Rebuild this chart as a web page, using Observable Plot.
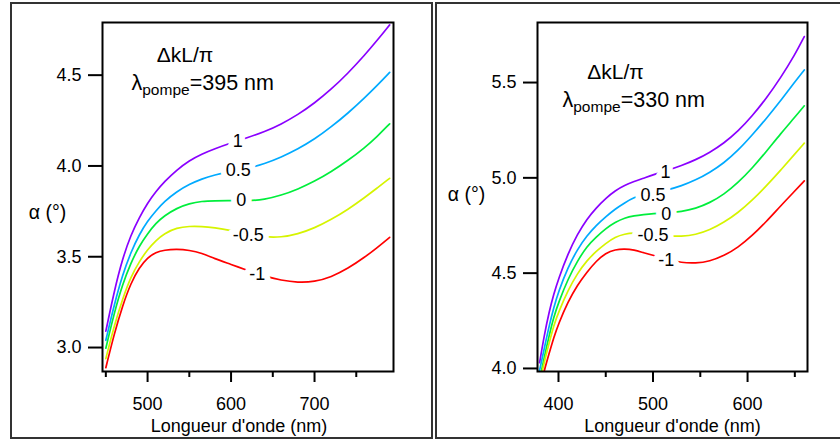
<!DOCTYPE html>
<html>
<head>
<meta charset="utf-8">
<script src="https://cdn.jsdelivr.net/npm/d3@7"></script>
<script src="https://cdn.jsdelivr.net/npm/@observablehq/plot@0.6"></script>
<style>
  html, body { margin: 0; padding: 0; background: #fff; }
  body { position: relative; width: 840px; height: 441px; overflow: hidden; font-family: "Liberation Sans", Arial, Helvetica, sans-serif; }
  .box { position: absolute; border: 2px solid #333; box-sizing: border-box; }
  #boxL { left: 10px; top: 2px; width: 423px; height: 437px; }
  #boxR { left: 435px; top: 2px; width: 420px; height: 437px; }
  .chart { position: absolute; top: 0; }
  #chartL { left: 0; }
  #chartR { left: 434px; }
</style>
</head>
<body>
<div class="box" id="boxL"></div>
<div class="box" id="boxR"></div>
<div class="chart" id="chartL"></div>
<div class="chart" id="chartR"></div>
<script>
// ---------- data ----------
const seriesNames = ["1", "0.5", "0", "-0.5", "-1"];
const seriesColors = ["#8a00ff", "#00aaff", "#00ee3c", "#d6f400", "#ff0000"];

// Left panel: λpompe = 395 nm
const wlL = [450, 460, 470, 480, 490, 500, 510, 520, 535, 550, 565, 580, 600, 620, 640, 660, 680, 700, 720, 740, 760, 775, 790];
const aL_p1  = [3.09, 3.31, 3.49, 3.62, 3.715, 3.796, 3.859, 3.913, 3.978, 4.030, 4.066, 4.094, 4.127, 4.156, 4.188, 4.23, 4.282, 4.346, 4.422, 4.51, 4.61, 4.691, 4.777];
const aL_p05 = [3.04, 3.235, 3.40, 3.525, 3.622, 3.697, 3.753, 3.804, 3.859, 3.899, 3.929, 3.95, 3.971, 3.987, 4.012, 4.048, 4.093, 4.147, 4.215, 4.29, 4.375, 4.443, 4.515];
const aL_0   = [2.996, 3.19, 3.348, 3.466, 3.559, 3.627, 3.685, 3.725, 3.768, 3.793, 3.806, 3.808, 3.809, 3.807, 3.815, 3.838, 3.872, 3.915, 3.968, 4.03, 4.10, 4.162, 4.232];
const aL_m05 = [2.939, 3.12, 3.268, 3.39, 3.473, 3.54, 3.59, 3.628, 3.66, 3.668, 3.667, 3.66, 3.645, 3.625, 3.608, 3.607, 3.625, 3.658, 3.705, 3.76, 3.826, 3.878, 3.932];
const aL_m1  = [2.889, 3.075, 3.23, 3.355, 3.44, 3.495, 3.525, 3.537, 3.542, 3.536, 3.52, 3.49, 3.458, 3.424, 3.393, 3.37, 3.358, 3.362, 3.388, 3.435, 3.497, 3.55, 3.607];
const labelL_x = [608, 608.6, 612.2, 620.6, 631.4];
const labelL_y = [4.134, 3.974, 3.809, 3.619, 3.404];

// Right panel: λpompe = 330 nm
const wlR = [380, 385, 390, 395, 400, 410, 420, 430, 440, 450, 460, 470, 480, 490, 500, 515, 530, 545, 560, 575, 590, 605, 620, 635, 650, 660];
const aR_p1  = [4.03, 4.175, 4.295, 4.39, 4.47, 4.602, 4.704, 4.784, 4.843, 4.893, 4.933, 4.961, 4.981, 4.998, 5.016, 5.039, 5.064, 5.094, 5.133, 5.182, 5.245, 5.325, 5.418, 5.525, 5.645, 5.741];
const aR_p05 = [3.99, 4.106, 4.221, 4.319, 4.403, 4.53, 4.625, 4.696, 4.751, 4.796, 4.837, 4.869, 4.898, 4.911, 4.92, 4.936, 4.958, 4.988, 5.028, 5.078, 5.144, 5.225, 5.312, 5.405, 5.503, 5.566];
const aR_0   = [3.94, 4.06, 4.17, 4.27, 4.345, 4.469, 4.563, 4.641, 4.69, 4.734, 4.767, 4.79, 4.801, 4.807, 4.812, 4.816, 4.823, 4.839, 4.869, 4.913, 4.975, 5.051, 5.139, 5.232, 5.318, 5.378];
const aR_m05 = [3.92, 4.036, 4.131, 4.226, 4.294, 4.41, 4.498, 4.566, 4.615, 4.656, 4.69, 4.706, 4.711, 4.708, 4.70, 4.694, 4.693, 4.701, 4.726, 4.766, 4.817, 4.882, 4.958, 5.04, 5.125, 5.182];
const aR_m1  = [3.885, 3.99, 4.077, 4.162, 4.234, 4.35, 4.437, 4.505, 4.564, 4.606, 4.624, 4.628, 4.622, 4.607, 4.594, 4.572, 4.555, 4.552, 4.562, 4.591, 4.635, 4.697, 4.771, 4.853, 4.931, 4.984];
const labelR_x = [513.3, 500, 514, 500, 514];
const labelR_y = [5.031, 4.911, 4.81, 4.70, 4.57];

// Axis ticks and texts
const yTicksL = [3.0, 3.5, 4.0, 4.5];
const xMajorL = [500, 600, 700];
const xMinorL = [450, 550, 650, 750];
const yTicksR = [4.0, 4.5, 5.0, 5.5];
const xMajorR = [400, 500, 600];
const xMinorR = [450, 550, 650];
const xTitle = "Longueur d'onde (nm)";
const yTitle = "α (°)";
const noteTitle = "ΔkL/π";
const pumpL = "λpompe=395 nm";
const pumpR = "λpompe=330 nm";

// ---------- drawing ----------
const FONT = "'Liberation Sans', Arial, Helvetica, sans-serif";

function makePanel(cfg) {
  const rows = [];
  cfg.series.forEach((vals, k) => {
    vals.forEach((v, i) => rows.push({x: cfg.wl[i], y: v, s: seriesNames[k]}));
  });
  const labels = seriesNames.map((n, k) => ({x: cfg.lx[k], y: cfg.ly[k], t: n}));
  const lineMarks = seriesNames.map((n, k) =>
    Plot.line(rows.filter(d => d.s === n), {x: "x", y: "y", stroke: seriesColors[k], strokeWidth: 1.7, curve: "basis", clip: true})
  );
  const plot = Plot.plot({
    width: cfg.width,
    height: 441,
    marginLeft: cfg.ml,
    marginRight: cfg.mr,
    marginTop: 22,
    marginBottom: 70,
    x: {domain: cfg.xd},
    y: {domain: cfg.yd},
    style: {fontFamily: FONT, fontSize: "18px", color: "black", background: "transparent", overflow: "visible"},
    marks: [
      ...lineMarks,
      Plot.text(labels, {x: "x", y: "y", text: "t", fill: "black", stroke: "white", strokeWidth: 12, fontSize: 18}),
      Plot.frame({stroke: "black", strokeWidth: 2}),
      Plot.axisY({ticks: cfg.yt, tickSize: 14, tickPadding: 7, tickFormat: d3.format(".1f"), label: null, strokeWidth: 2, fontSize: 18}),
      Plot.axisX({ticks: cfg.xM, tickSize: 11, tickPadding: 14.5, tickFormat: d3.format("d"), label: null, strokeWidth: 2, fontSize: 18}),
      Plot.axisX({ticks: cfg.xm, tickSize: 6, tickFormat: () => "", label: null, strokeWidth: 2}),
      Plot.text([xTitle], {frameAnchor: "bottom", dx: cfg.xtdx, dy: 55, lineAnchor: "middle", textAnchor: "middle", fontSize: 18}),
      Plot.text([yTitle], {frameAnchor: "left", dx: cfg.ytdx, dy: cfg.ytdy, lineAnchor: "middle", textAnchor: "middle", fontSize: 19.5}),
      Plot.text([noteTitle], {frameAnchor: "top-left", dx: cfg.n1dx, dy: cfg.n1dy, lineAnchor: "middle", textAnchor: "middle", fontSize: 21}),
      Plot.text([cfg.pump], {frameAnchor: "top-left", dx: cfg.n2dx, dy: cfg.n2dy, lineAnchor: "middle", textAnchor: "start", fontSize: 21.5})
    ]
  });
  // subscript "pompe"
  plot.querySelectorAll("text").forEach(t => {
    const s = t.textContent;
    if (s.startsWith("λpompe")) {
      while (t.firstChild) t.removeChild(t.firstChild);
      const ns = "http://www.w3.org/2000/svg";
      const a = document.createElementNS(ns, "tspan"); a.textContent = "λ";
      const b = document.createElementNS(ns, "tspan"); b.textContent = "pompe";
      b.setAttribute("font-size", "15.5"); b.setAttribute("dy", "5");
      const c = document.createElementNS(ns, "tspan"); c.textContent = s.slice(6);
      c.setAttribute("dy", "-5");
      t.append(a, b, c);
    }
  });
  return plot;
}

document.getElementById("chartL").append(makePanel({
  width: 434, ml: 102, mr: 41, xd: [446, 794.6], yd: [2.868, 4.79],
  wl: wlL, series: [aL_p1, aL_p05, aL_0, aL_m05, aL_m1], lx: labelL_x, ly: labelL_y,
  yt: yTicksL, xM: xMajorL, xm: xMinorL, pump: pumpL,
  xtdx: -9, ytdx: -55, ytdy: 15.5, n1dx: 82.5, n1dy: 33, n2dx: 29, n2dy: 61
}));

document.getElementById("chartR").append(makePanel({
  width: 406, ml: 103, mr: 33, xd: [377.8, 663.4], yd: [3.984, 5.815],
  wl: wlR, series: [aR_p1, aR_p05, aR_0, aR_m05, aR_m1], lx: labelR_x, ly: labelR_y,
  yt: yTicksR, xM: xMajorR, xm: xMinorR, pump: pumpR,
  xtdx: 0, ytdx: -71, ytdy: -2.5, n1dx: 78, n1dy: 50, n2dx: 25, n2dy: 78
}));
</script>
</body>
</html>
